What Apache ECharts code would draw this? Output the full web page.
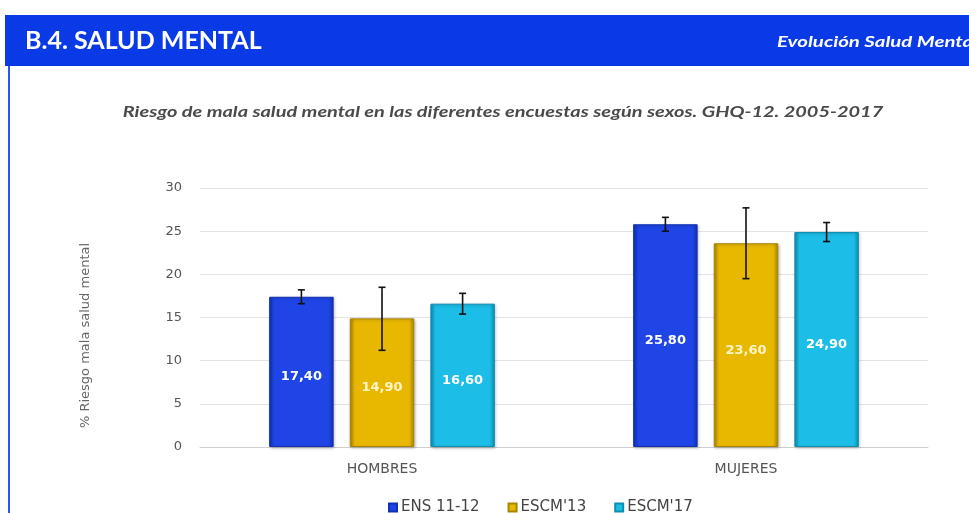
<!DOCTYPE html>
<html>
<head>
<meta charset="utf-8">
<script src="https://cdn.jsdelivr.net/npm/echarts@6/dist/echarts.min.js"></script>
<style>
  html, body { margin: 0; padding: 0; background: #fff; overflow: hidden; }
  #chart { width: 969px; height: 513px; }
</style>
</head>
<body>
<div id="chart"></div>
<script>
var categories = ['HOMBRES', 'MUJERES'];
var seriesNames = ['ENS 11-12', 'ESCM\'13', 'ESCM\'17'];
var ens = [17.4, 25.8];
var escm13 = [14.9, 23.6];
var escm17 = [16.6, 24.9];
// intervalos de confianza (bajo / alto)
var ensLow = [16.6, 25.0], ensHigh = [18.2, 26.6];
var escm13Low = [11.2, 19.5], escm13High = [18.5, 27.7];
var escm17Low = [15.4, 23.8], escm17High = [17.8, 26.0];
var yTicks = [0, 5, 10, 15, 20, 25, 30];

var colors = ['#1f45e6', '#e8b800', '#1cbde6'];
var edges = ['#1230b0', '#a88400', '#0d8fb0'];

function grad(c, e) {
    return new echarts.graphic.LinearGradient(0, 0, 1, 0, [
        { offset: 0, color: e },
        { offset: 0.08, color: c },
        { offset: 0.92, color: c },
        { offset: 1, color: e }
    ]);
}

var BAR_GAP = 0.25, CAT_GAP = 0.38;

function errorSeries(idx, low, high) {
    var data = low.map(function (l, i) { return [i, l, high[i]]; });
    return {
        type: 'custom',
        name: seriesNames[idx] + ' IC',
        z: 10,
        silent: true,
        renderItem: function (params, api) {
            var band = api.size([1, 0])[0];
            var bw = band * (1 - CAT_GAP) / (3 + 2 * BAR_GAP);
            var off = (idx - 1) * bw * (1 + BAR_GAP);
            var lo = api.coord([api.value(0), api.value(1)]);
            var hi = api.coord([api.value(0), api.value(2)]);
            var x = lo[0] + off;
            var st = { stroke: '#111', lineWidth: 1.6 };
            return {
                type: 'group',
                children: [
                    { type: 'line', shape: { x1: x, y1: hi[1], x2: x, y2: lo[1] }, style: st },
                    { type: 'line', shape: { x1: x - 3.5, y1: hi[1], x2: x + 3.5, y2: hi[1] }, style: st },
                    { type: 'line', shape: { x1: x - 3.5, y1: lo[1], x2: x + 3.5, y2: lo[1] }, style: st }
                ]
            };
        },
        encode: { x: 0, y: [1, 2] },
        data: data
    };
}

function barSeries(idx, values, labelColor) {
    return {
        name: seriesNames[idx],
        type: 'bar',
        barGap: '25%',
        barCategoryGap: '38%',
        data: values,
        itemStyle: {
            color: grad(colors[idx], edges[idx]),
            borderColor: edges[idx],
            borderWidth: 1,
            shadowColor: 'rgba(0,0,0,0.25)',
            shadowBlur: 3,
            shadowOffsetX: 1,
            shadowOffsetY: 1
        },
        label: {
            show: true,
            position: 'inside',
            offset: [0, 5],
            color: labelColor,
            fontFamily: 'DejaVu Sans',
            fontWeight: 'bold',
            fontSize: 13,
            formatter: function (p) { return p.value.toFixed(2).replace('.', ','); }
        }
    };
}

var myChart = echarts.init(document.getElementById('chart'));
myChart.setOption({
    animation: false,
    color: colors,
    textStyle: { fontFamily: 'DejaVu Sans' },
    graphic: [
        { type: 'rect', shape: { x: 5, y: 15, width: 964, height: 51 }, style: { fill: '#0a3ae6' } },
        { type: 'rect', shape: { x: 8, y: 66, width: 2, height: 447 }, style: { fill: '#2e55ee' } },
        { type: 'text', x: 25, y: 41, style: { text: 'B.4. SALUD MENTAL', x: 0, y: 0, verticalAlign: 'middle', fill: '#fff', font: 'bold 25px Lato' } },
        { type: 'text', x: 777, y: 42, scaleX: 1.36, style: { text: 'Evolución Salud Mental', x: 0, y: 0, verticalAlign: 'middle', fill: '#fff', font: 'italic bold 15px Lato' } },
        { type: 'text', x: 503, y: 112, scaleX: 1.33, style: { text: 'Riesgo de mala salud mental en las diferentes encuestas según sexos. GHQ-12. 2005-2017', x: 0, y: 0, align: 'center', verticalAlign: 'middle', fill: '#4a4a4a', font: 'italic bold 15px Lato' } }
    ],
    legend: {
        data: seriesNames,
        top: 495,
        left: 383,
        icon: 'rect',
        itemWidth: 8,
        itemHeight: 8,
        itemGap: 28,
        textStyle: { color: '#444', fontSize: 15, padding: [0, 0, 0, -1] }
    },
    grid: { left: 200, right: 41, top: 188, bottom: 66 },
    xAxis: {
        type: 'category',
        data: categories,
        axisTick: { show: false },
        axisLine: { lineStyle: { color: '#d0d0d0' } },
        axisLabel: { color: '#555', fontSize: 14, margin: 15 }
    },
    yAxis: {
        type: 'value',
        min: yTicks[0],
        max: yTicks[yTicks.length - 1],
        interval: 5,
        name: '% Riesgo mala salud mental',
        nameLocation: 'middle',
        nameGap: 108,
        nameTextStyle: { color: '#666', fontSize: 13, padding: [0, 36, 0, 0] },
        axisLabel: { color: '#555', fontSize: 13, margin: 18 },
        splitLine: { lineStyle: { color: '#e3e3e3' } }
    },
    series: [
        barSeries(0, ens, '#fff'),
        barSeries(1, escm13, '#fff6c8'),
        barSeries(2, escm17, '#fff'),
        errorSeries(0, ensLow, ensHigh),
        errorSeries(1, escm13Low, escm13High),
        errorSeries(2, escm17Low, escm17High)
    ]
});
window.onresize = function () {
    myChart.resize();
};
</script>
</body>
</html>
